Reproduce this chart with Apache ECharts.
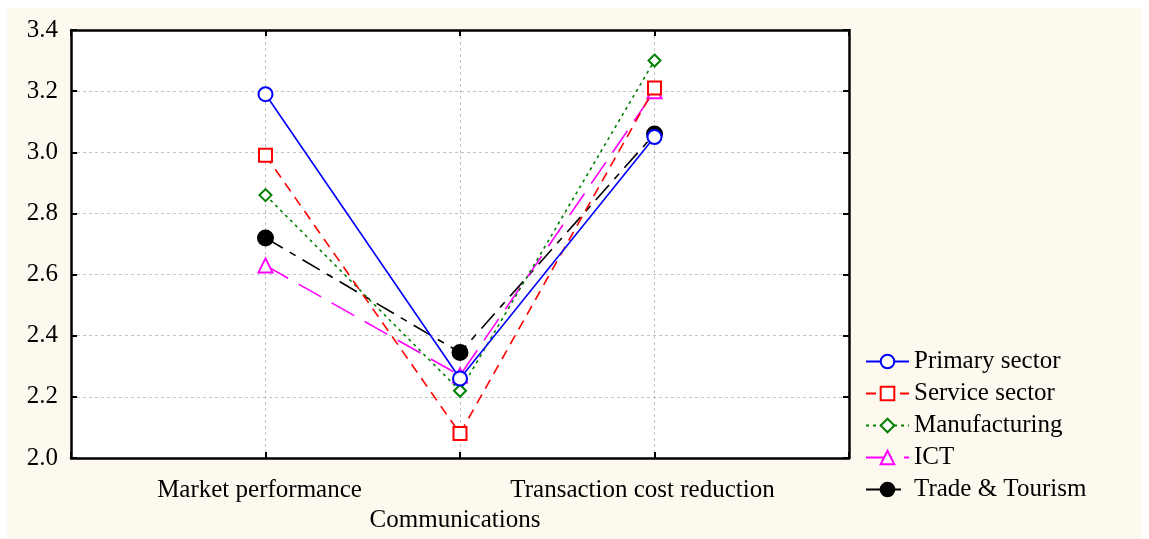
<!DOCTYPE html>
<html>
<head>
<meta charset="utf-8">
<script src="https://cdn.jsdelivr.net/npm/echarts@6/dist/echarts.min.js"></script>
<style>
html, body { margin: 0; padding: 0; background: #fff; }
#main { width: 1149px; height: 539px; }
</style>
</head>
<body>
<div id="main"></div>
<script>
// categories sit at x = 1, 2, 3 on a 0..4 axis
const categories = ['Market performance', 'Communications', 'Transaction cost reduction'];
const catPos = [1, 2, 3];
const yTicks = [2.0, 2.2, 2.4, 2.6, 2.8, 3.0, 3.2, 3.4];

const seriesNames = ['Primary sector', 'Service sector', 'Manufacturing', 'ICT', 'Trade & Tourism'];
const primary = [3.19, 2.26, 3.05];
const service = [2.99, 2.08, 3.21];
const manufacturing = [2.86, 2.22, 3.30];
const ict = [2.63, 2.27, 3.20];
const trade = [2.72, 2.345, 3.06];

const FONT = 'Liberation Serif';

function pts(vals) {
	return vals.map(function (v, i) { return [catPos[i], v]; });
}

const styles = [
	{ color: '#0000ff', type: 'solid', symbol: 'emptyCircle', size: 14 },
	{ color: '#ff0000', type: [10, 7], symbol: 'rect', size: 13, empty: true },
	{ color: '#008000', type: [3, 4], symbol: 'diamond', size: 12, empty: true },
	{ color: '#ff00ff', type: [26, 12], symbol: 'triangle', size: 14, empty: true },
	{ color: '#000000', type: [20, 8, 7, 8], symbol: 'circle', size: 15 }
];
const values = [primary, service, manufacturing, ict, trade];

const series = seriesNames.map(function (name, i) {
	const s = styles[i];
	return {
		name: name,
		type: 'line',
		data: pts(values[i]),
		symbol: s.symbol,
		symbolSize: s.size,
		showAllSymbol: true,
		lineStyle: { color: s.color, width: 1.6, type: s.type },
		itemStyle: {
			color: s.empty ? '#fff' : s.color,
			borderColor: s.color,
			borderWidth: 2
		},
		emphasis: { disabled: true },
		z: 10 - i
	};
});

const axisLine = { show: true, onZero: false, lineStyle: { color: '#000', width: 2.5 } };
const axisTick = { show: true, inside: true, length: 6, lineStyle: { color: '#000', width: 2 } };
const gridLine = { show: true, lineStyle: { color: '#c4c4c4', type: [3, 3], width: 1 } };

const chart = echarts.init(document.getElementById('main'));
chart.setOption({
	animation: false,
	backgroundColor: 'transparent',
	graphic: [{
		type: 'rect', z: -100, silent: true,
		shape: { x: 7, y: 8, width: 1135, height: 531 },
		style: { fill: '#fdf9ee' }
	}],
	grid: {
		left: 71, top: 30, right: 300, bottom: 81,
		show: true, backgroundColor: '#fff', borderWidth: 0
	},
	legend: {
		orient: 'vertical',
		left: 860, top: 344,
		itemWidth: 43, itemHeight: 17, itemGap: 7,
		textStyle: { fontFamily: FONT, fontSize: 25, color: '#000' },
		data: seriesNames
	},
	xAxis: [{
		type: 'value', min: 0, max: 4, interval: 1,
		axisLine: axisLine, axisTick: axisTick,
		splitLine: gridLine,
		axisLabel: {
			fontFamily: FONT, fontSize: 25, color: '#000', margin: 17, lineHeight: 30,
			formatter: function (v) {
				const i = catPos.indexOf(v);
				if (i === 0) return '{a|' + categories[0] + '}';
				if (i === 1) return '\n{b|' + categories[1] + '}';
				if (i === 2) return '{c|' + categories[2] + '}';
				return '';
			},
			rich: {
				a: { fontFamily: FONT, fontSize: 25, lineHeight: 30, padding: [0, 12, 0, 0] },
				b: { fontFamily: FONT, fontSize: 25, lineHeight: 30, padding: [0, 10, 0, 0] },
				c: { fontFamily: FONT, fontSize: 25, lineHeight: 30, padding: [0, 24, 0, 0] }
			}
		}
	}, {
		type: 'value', min: 0, max: 4, interval: 1, position: 'top',
		axisLine: axisLine, axisTick: axisTick,
		splitLine: { show: false },
		axisLabel: { show: false }
	}],
	yAxis: [{
		type: 'value', min: 2.0, max: 3.4, interval: 0.2,
		axisLine: axisLine, axisTick: axisTick,
		splitLine: gridLine,
		axisLabel: {
			fontFamily: FONT, fontSize: 25, color: '#000', margin: 13,
			formatter: function (v) { return v.toFixed(1); }
		}
	}, {
		type: 'value', min: 2.0, max: 3.4, interval: 0.2, position: 'right',
		axisLine: axisLine, axisTick: axisTick,
		splitLine: { show: false },
		axisLabel: { show: false }
	}],
	series: series
});
</script>
</body>
</html>
